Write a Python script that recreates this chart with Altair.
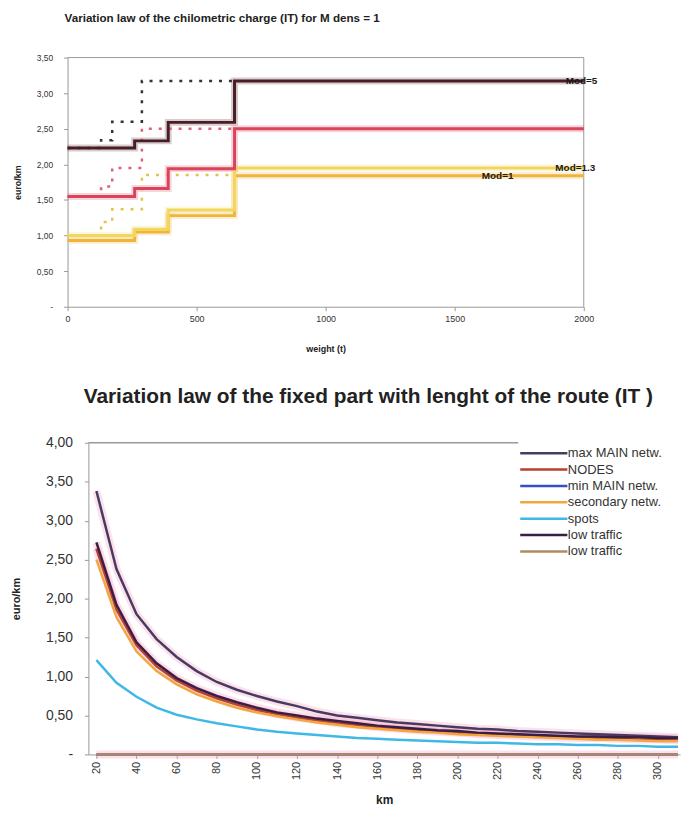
import altair as alt
import pandas as pd

FONT = "Liberation Sans"

# ---------------- top chart data ----------------
weight_breaks = [0, 260, 390, 647, 2000]
mod5_values = [2.23, 2.33, 2.59, 3.17, 3.17]
red_values = [1.55, 1.66, 1.94, 2.50, 2.50]
mod13_values = [1.00, 1.09, 1.36, 1.95, 1.95]
mod1_values = [0.93, 1.05, 1.28, 1.84, 1.84]

dotted_breaks = [0, 130, 173, 288, 647]
mod5_dotted = [2.23, 2.34, 2.60, 3.17, 3.17]
red_dotted = [1.55, 1.69, 1.95, 2.50, 2.50]
yellow_dotted = [1.00, 1.19, 1.37, 1.85, 1.85]

mod_label_text = ["Mod=5", "Mod=1.3", "Mod=1"]
mod_label_weight = [1930, 1890, 1605]
mod_label_value = [3.17, 1.95, 1.84]

top_x_domain = [0, 2000]
top_y_domain = [0, 3.5]
top_x_ticks = [0, 500, 1000, 1500, 2000]
top_y_ticks = [0, 0.5, 1.0, 1.5, 2.0, 2.5, 3.0, 3.5]

# ---------------- bottom chart data ----------------
km = [20, 30, 40, 50, 60, 70, 80, 90, 100, 110, 120, 130, 140, 150, 160,
      170, 180, 190, 200, 210, 220, 230, 240, 250, 260, 270, 280, 290, 300, 310]
max_main = [3.38, 2.38, 1.80, 1.48, 1.25, 1.07, 0.93, 0.83, 0.75, 0.68, 0.62, 0.55, 0.50, 0.47, 0.44,
            0.41, 0.39, 0.37, 0.35, 0.33, 0.32, 0.30, 0.29, 0.28, 0.27, 0.26, 0.25, 0.24, 0.23, 0.22]
nodes = [2.64, 1.86, 1.40, 1.13, 0.95, 0.82, 0.72, 0.64, 0.57, 0.52, 0.47, 0.44, 0.40, 0.38, 0.35,
         0.33, 0.31, 0.29, 0.28, 0.26, 0.25, 0.24, 0.23, 0.22, 0.21, 0.21, 0.20, 0.19, 0.19, 0.18]
min_main = [0.0] * 30
secondary = [2.50, 1.76, 1.32, 1.07, 0.90, 0.77, 0.68, 0.60, 0.54, 0.49, 0.45, 0.41, 0.38, 0.35, 0.33,
             0.31, 0.29, 0.28, 0.26, 0.25, 0.24, 0.23, 0.22, 0.21, 0.20, 0.19, 0.19, 0.18, 0.17, 0.17]
spots = [1.21, 0.92, 0.74, 0.60, 0.51, 0.45, 0.40, 0.36, 0.32, 0.29, 0.27, 0.25, 0.23, 0.21, 0.20,
         0.19, 0.18, 0.17, 0.16, 0.15, 0.15, 0.14, 0.13, 0.13, 0.12, 0.12, 0.11, 0.11, 0.10, 0.10]
low_traffic_a = [2.72, 1.92, 1.44, 1.17, 0.98, 0.85, 0.75, 0.67, 0.60, 0.54, 0.50, 0.46, 0.43, 0.40, 0.37,
                 0.35, 0.33, 0.31, 0.30, 0.28, 0.27, 0.26, 0.25, 0.24, 0.23, 0.23, 0.22, 0.22, 0.21, 0.21]
low_traffic_b = [0.0] * 30

series_names = ["max MAIN netw.", "NODES", "min MAIN netw.", "secondary netw.",
                "spots", "low traffic", "low traffic "]
series_values = [max_main, nodes, min_main, secondary, spots, low_traffic_a, low_traffic_b]
series_colors = ["#463c60", "#b8402e", "#3550c0", "#f2a640", "#3fb8e6", "#3a1f45", "#b08a62"]
bottom_x_ticks = [20, 40, 60, 80, 100, 120, 140, 160, 180, 200, 220, 240, 260, 280, 300]
bottom_y_ticks = [0, 0.5, 1.0, 1.5, 2.0, 2.5, 3.0, 3.5, 4.0]

label_expr = "datum.value == 0 ? '-' : replace(format(datum.value, '.2f'), '.', ',')"

# ---------------- top chart ----------------
# The top panel sits 21px further left than the bottom one; its x range starts left of the origin.
TOP_SHIFT = 21
TOP_W = 499

solid_names = ["Mod=1", "Mod=1.3", "red step", "Mod=5"]
solid_values = [mod1_values, mod13_values, red_values, mod5_values]
solid_colors = ["#f0b43c", "#f3d65e", "#d9435c", "#4a1c26"]
solid_rows = []
for order, (name, vals) in enumerate(zip(solid_names, solid_values)):
    for w, v in zip(weight_breaks, vals):
        solid_rows.append({"series": name, "weight": w, "value": v, "o": order})
solid_df = pd.DataFrame(solid_rows)

dotted_names = ["dot yellow", "dot red", "dot dark"]
dotted_values = [yellow_dotted, red_dotted, mod5_dotted]
dotted_colors = ["#e3c44a", "#e0607a", "#333333"]
dotted_rows = []
for name, vals in zip(dotted_names, dotted_values):
    for w, v in zip(dotted_breaks, vals):
        dotted_rows.append({"series": name, "weight": w, "value": v})
dotted_df = pd.DataFrame(dotted_rows)

labels_df = pd.DataFrame({"text": mod_label_text, "weight": mod_label_weight, "value": mod_label_value})
frame_top_df = pd.DataFrame({"weight": [top_x_domain[0]], "weight2": [top_x_domain[1]],
                             "value": [top_y_domain[1]]})
frame_right_df = pd.DataFrame({"weight": [top_x_domain[1]], "value": [top_y_domain[0]],
                               "value2": [top_y_domain[1]]})

top_x = alt.X("weight:Q", scale=alt.Scale(domain=top_x_domain, nice=False, zero=False,
                                          range=[-TOP_SHIFT, TOP_W]),
              axis=alt.Axis(values=top_x_ticks, format="d", title="weight (t)", grid=False, labelFontSize=9,
                            titleFontSize=9, titleFontWeight="bold", domainColor="#999", tickColor="#999",
                            tickSize=4, labelPadding=4, titlePadding=21, labelColor="#333", titleColor="#222",
                            labelFlush=False, titleX=(TOP_W - TOP_SHIFT) / 2))
top_y = alt.Y("value:Q", scale=alt.Scale(domain=top_y_domain, nice=False),
              axis=alt.Axis(values=top_y_ticks, title="euro/km", grid=False, labelFontSize=8.5,
                            titleFontSize=9, titleFontWeight="bold", domainColor="#999", tickColor="#999",
                            tickSize=4, labelPadding=11, titlePadding=14, labelExpr=label_expr,
                            labelColor="#333", titleColor="#222", offset=TOP_SHIFT, labelOverlap=False))

frame_top = alt.Chart(frame_top_df).mark_rule(color="#999").encode(x=top_x, x2="weight2:Q", y=top_y)
frame_right = alt.Chart(frame_right_df).mark_rule(color="#999").encode(x=top_x, y=top_y, y2="value2:Q")

solid_halo = alt.Chart(solid_df).mark_line(interpolate="step-after", strokeWidth=7, opacity=0.22).encode(
    x=top_x, y=top_y,
    color=alt.Color("series:N", scale=alt.Scale(domain=solid_names, range=solid_colors), legend=None),
    detail="series:N")
dotted = alt.Chart(dotted_df).mark_line(interpolate="step-after", strokeWidth=2.5, strokeDash=[3, 7]).encode(
    x=top_x, y=top_y,
    color=alt.Color("series:N", scale=alt.Scale(domain=dotted_names, range=dotted_colors), legend=None),
    detail="series:N")
solid = alt.Chart(solid_df).mark_line(interpolate="step-after", strokeWidth=3).encode(
    x=top_x, y=top_y,
    color=alt.Color("series:N", scale=alt.Scale(domain=solid_names, range=solid_colors), legend=None),
    order="o:Q")
mod_text = alt.Chart(labels_df).mark_text(align="left", baseline="middle", fontSize=10, fontWeight="bold",
                                          color="#1a1a1a").encode(x=top_x, y=top_y, text="text:N")

top = alt.layer(frame_top, frame_right, solid_halo, dotted, solid, mod_text).resolve_scale(
    color="independent").properties(
    width=TOP_W, height=251,
    title=alt.TitleParams("Variation law of the chilometric charge (IT) for M dens = 1", anchor="start",
                          frame="group", dx=-TOP_SHIFT - 3, fontSize=11.7, fontWeight="bold", offset=29,
                          color="#222", font=FONT),
    view=alt.ViewBackground(strokeOpacity=0))

# ---------------- bottom chart ----------------
rows = []
for order, (name, vals) in enumerate(zip(series_names, series_values)):
    for k, v in zip(km, vals):
        rows.append({"series": name, "km": k, "value": v, "o": order})
bottom_df = pd.DataFrame(rows)

bx = alt.X("km:Q", scale=alt.Scale(domain=[16, 311], nice=False, zero=False),
           axis=alt.Axis(values=bottom_x_ticks, title="km", grid=False, labelAngle=270, labelAlign="right",
                         labelBaseline="middle", labelFontSize=11, titleFontSize=12, titleFontWeight="bold",
                         domainColor="#999", tickColor="#999", tickSize=4, labelPadding=3, titlePadding=15,
                         labelColor="#333", titleColor="#222"))
by = alt.Y("value:Q", scale=alt.Scale(domain=[0, 4], nice=False),
           axis=alt.Axis(values=bottom_y_ticks, title="euro/km", grid=False, labelFontSize=14,
                         titleFontSize=11, titleFontWeight="bold", domainColor="#999", tickColor="#999",
                         tickSize=4, labelPadding=12, titlePadding=24, labelExpr=label_expr,
                         labelColor="#333", titleColor="#222"))

top_rule = alt.Chart(pd.DataFrame({"value": [4.0]})).mark_rule(color="#999", strokeWidth=1.5).encode(
    y=by, x=alt.value(0), x2=alt.value(433))

halo = alt.Chart(bottom_df).transform_filter(
    alt.FieldOneOfPredicate(field="series", oneOf=["max MAIN netw.", "NODES", "low traffic", "low traffic "])
).mark_line(strokeWidth=8, opacity=0.35, color="#f6a6c8").encode(x=bx, y=by, detail="series:N")

lines = alt.Chart(bottom_df).mark_line(strokeWidth=2.5).encode(
    x=bx, y=by,
    color=alt.Color("series:N", scale=alt.Scale(domain=series_names, range=series_colors),
                    sort=series_names,
                    legend=alt.Legend(orient="none", legendX=434, legendY=-3, title=None,
                                      symbolType="M-2.5,0H7", symbolSize=100, symbolStrokeWidth=2.5,
                                      labelFontSize=13, labelFont=FONT, labelColor="#333",
                                      fillColor="white", padding=7, rowPadding=2.5, labelOffset=29,
                                      labelLimit=220, zindex=5)),
    order="o:Q")

bottom = alt.layer(top_rule, halo, lines).properties(
    width=596, height=314,
    title=alt.TitleParams("Variation law of the fixed part with lenght of the route (IT )", anchor="middle",
                          fontSize=21, fontWeight="bold", offset=29, dx=-16, color="#222", font=FONT),
    view=alt.ViewBackground(strokeOpacity=0))

chart = alt.vconcat(top, bottom, spacing=33).resolve_scale(color="independent").properties(
    padding={"left": 2, "top": 2, "right": -8, "bottom": 0}
).configure(font=FONT, background="white")

chart.save("out.html", embed_options={"renderer": "svg", "actions": False})
